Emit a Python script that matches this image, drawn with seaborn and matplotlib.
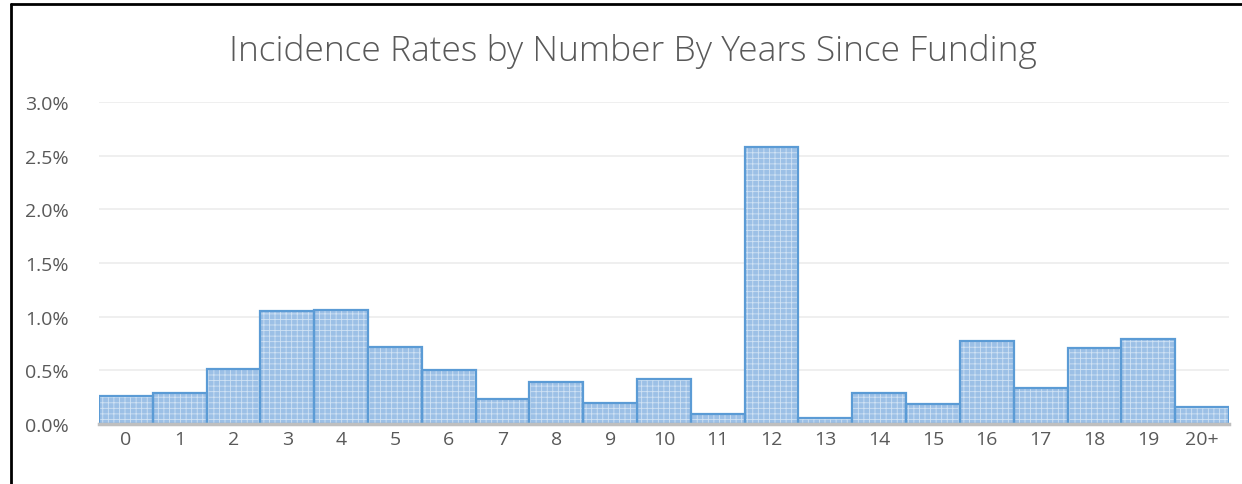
import pandas as pd
import matplotlib.pyplot as plt
import seaborn as sns
from matplotlib.lines import Line2D
from matplotlib.ticker import FuncFormatter

sns.set_style('white')
plt.rcParams['font.family'] = ['Open Sans', 'DejaVu Sans']
plt.rcParams['hatch.linewidth'] = 0.6

# years since funding and incidence rate (%)
years = ['0', '1', '2', '3', '4', '5', '6', '7', '8', '9', '10',
         '11', '12', '13', '14', '15', '16', '17', '18', '19', '20+']
rates = [0.26, 0.29, 0.51, 1.05, 1.06, 0.72, 0.50, 0.23, 0.39, 0.20, 0.42,
         0.09, 2.58, 0.06, 0.29, 0.19, 0.77, 0.34, 0.71, 0.79, 0.16]

df = pd.DataFrame({'year': years, 'rate': rates})

fig = plt.figure(figsize=(12.42, 4.85), dpi=100)
ax = fig.add_axes([0.0797, 0.1237, 0.9098, 0.6639])

# hatched fill
sns.barplot(data=df, x='year', y='rate', ax=ax, width=1.0,
            color='#9cc0e6', saturation=1, edgecolor='#d0e2f4',
            linewidth=0, hatch='+++')
# outline
sns.barplot(data=df, x='year', y='rate', ax=ax, width=1.0, fill=False,
            edgecolor='#5b9bd5', linewidth=1.6)

ax.set_ylim(0, 3.0)
ax.set_xlim(-0.5, len(years) - 0.5)
ax.set_yticks([0, 0.5, 1.0, 1.5, 2.0, 2.5, 3.0])
ax.yaxis.set_major_formatter(FuncFormatter(lambda v, p: f'{v:.1f}%'))
ax.grid(axis='y', color='#ececec', linewidth=1.2)
ax.set_axisbelow(True)
for s in ['top', 'right', 'left']:
    ax.spines[s].set_visible(False)
ax.spines['bottom'].set_color('#bfbfbf')
ax.spines['bottom'].set_linewidth(2.5)
ax.tick_params(axis='both', length=0, labelsize=14, colors='#595959')
ax.tick_params(axis='x', pad=4)
ax.tick_params(axis='y', pad=22)
ax.set_xlabel('')
ax.set_ylabel('')

fig.text(0.5095, 0.893, 'Incidence Rates by Number By Years Since Funding',
         ha='center', va='center', fontsize=25.5, color='#595959',
         fontweight='light')

# frame lines at top and left
fig.add_artist(Line2D([0.0085, 0.0085], [0, 0.99], transform=fig.transFigure,
                      color='black', linewidth=2))
fig.add_artist(Line2D([0.0085, 1], [0.99, 0.99], transform=fig.transFigure,
                      color='black', linewidth=2))

fig.savefig('out.png', dpi=100, facecolor='white')
